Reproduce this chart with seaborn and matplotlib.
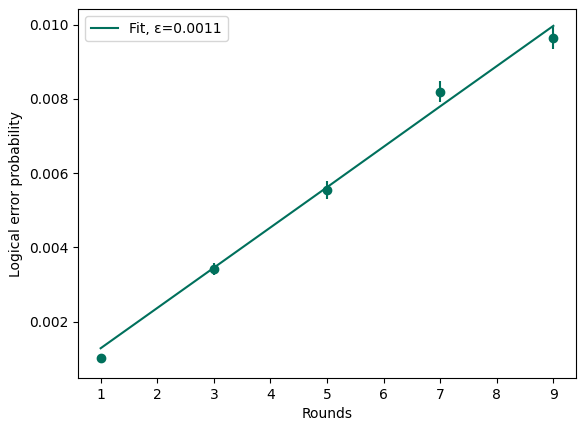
import numpy as np
import pandas as pd
import matplotlib
matplotlib.use("Agg")
import matplotlib.pyplot as plt
import seaborn as sns

# 데이터
rounds = [1, 3, 5, 7, 9]
error_prob = [0.00103, 0.00342, 0.00555, 0.00820, 0.00965]
error_bar = [0.00010, 0.00016, 0.00024, 0.00028, 0.00030]
fit_prob = [0.00128, 0.00345, 0.00562, 0.00780, 0.00997]
fit_label = "Fit, ε=0.0011"

color = "#00705C"

data = pd.DataFrame({"Rounds": rounds, "p": error_prob, "fit": fit_prob})

fig, ax = plt.subplots(figsize=(5.84, 4.32), dpi=100)
fig.subplots_adjust(left=0.1336, right=0.9863, top=0.979, bottom=0.125)

ax.errorbar(data["Rounds"], data["p"], yerr=error_bar, fmt="o", color=color)
sns.lineplot(data=data, x="Rounds", y="fit", color=color, label=fit_label, ax=ax)

ax.set_xlabel("Rounds")
ax.set_ylabel("Logical error probability")
ax.legend(loc="upper left")

fig.savefig("out.png", dpi=100)
